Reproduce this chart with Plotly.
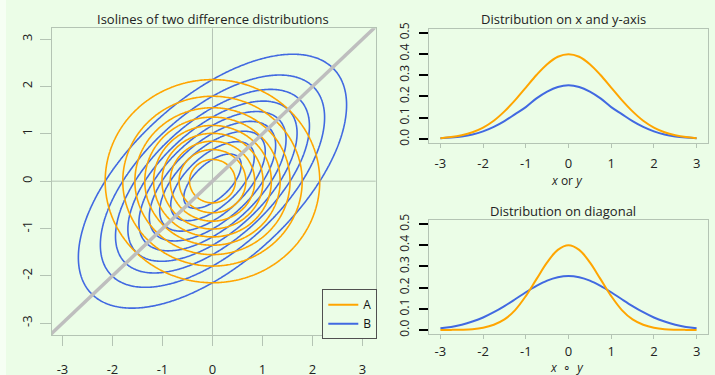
import numpy as np
import plotly.graph_objects as go

# ---------------- data ----------------
# 2D distributions shown as isolines
A_sd = 1.0
A_rho = 0.0
B_sd = 1.25
B_rho = 0.6
level_fractions = [0.1, 0.2, 0.3, 0.4, 0.5, 0.6, 0.7, 0.8, 0.9]   # of peak density

# 1D curves
x_pts = [-3.0, -2.75, -2.5, -2.25, -2.0, -1.75, -1.5, -1.25, -1.0, -0.75, -0.5, -0.25, 0.0,
         0.25, 0.5, 0.75, 1.0, 1.25, 1.5, 1.75, 2.0, 2.25, 2.5, 2.75, 3.0]
axis_A = [0.004, 0.009, 0.018, 0.032, 0.054, 0.086, 0.130, 0.183, 0.242, 0.301, 0.352, 0.387, 0.399,
          0.387, 0.352, 0.301, 0.242, 0.183, 0.130, 0.086, 0.054, 0.032, 0.018, 0.009, 0.004]
axis_B = [0.004, 0.007, 0.012, 0.021, 0.036, 0.057, 0.084, 0.117, 0.150, 0.191, 0.223, 0.245, 0.253,
          0.245, 0.223, 0.191, 0.150, 0.117, 0.084, 0.057, 0.036, 0.021, 0.012, 0.007, 0.004]
diag_A = [0.000, 0.0005, 0.0015, 0.004, 0.011, 0.025, 0.050, 0.094, 0.160, 0.240, 0.319, 0.378, 0.400,
          0.378, 0.319, 0.240, 0.160, 0.094, 0.050, 0.025, 0.011, 0.004, 0.0015, 0.0005, 0.000]
diag_B = [0.008, 0.014, 0.025, 0.040, 0.059, 0.084, 0.113, 0.145, 0.178, 0.208, 0.233, 0.249, 0.255,
          0.249, 0.233, 0.208, 0.178, 0.145, 0.113, 0.084, 0.059, 0.040, 0.025, 0.014, 0.008]

series_names = ["A", "B"]
xy_ticks = [-3, -2, -1, 0, 1, 2, 3]
xy_ticktext = ["-3", "-2", "-1", "0", "1", "2", "3"]
dens_ticks = [0.0, 0.1, 0.2, 0.3, 0.4, 0.5]
dens_ticktext = ["0.0", "0.1", "0.2", "0.3", "0.4", "0.5"]

# ---------------- styling ----------------
ORANGE = "#FFA500"
BLUE = "#4169E1"
BG = "#EBFDE7"
BOX = "#B4C4B4"
FONT = "Open Sans"
W, H = 715, 375


def density_grid(sd, rho, g):
    X, Y = np.meshgrid(g, g)
    q = (X**2 - 2 * rho * X * Y + Y**2) / (sd**2 * (1 - rho**2))
    return np.exp(-q / 2)  # relative to peak


grid = np.linspace(-3.4, 3.4, 273)
zA = density_grid(A_sd, A_rho, grid)
zB = density_grid(B_sd, B_rho, grid)

fig = go.Figure()


def contour(z, color, name):
    return go.Contour(
        x=grid, y=grid, z=z, name=name,
        contours=dict(start=level_fractions[0], end=level_fractions[-1],
                      size=level_fractions[1] - level_fractions[0], coloring="lines"),
        colorscale=[[0, color], [1, color]], showscale=False,
        line=dict(width=1.6), hoverinfo="skip", showlegend=False,
        xaxis="x", yaxis="y",
    )


fig.add_trace(contour(zB, BLUE, "B"))
fig.add_trace(contour(zA, ORANGE, "A"))
# diagonal
fig.add_trace(go.Scatter(x=[-4, 4], y=[-4, 4], mode="lines",
                         line=dict(color="#BEBEBE", width=3.5), showlegend=False,
                         hoverinfo="skip", xaxis="x", yaxis="y"))
# legend entries
for nm, col in zip(series_names, [ORANGE, BLUE]):
    fig.add_trace(go.Scatter(x=[None], y=[None], mode="lines", name=nm,
                             line=dict(color=col, width=2), xaxis="x", yaxis="y"))

# right-hand 1D curves
for ys, col, xa, ya in [(axis_B, BLUE, "x2", "y2"), (axis_A, ORANGE, "x2", "y2"),
                        (diag_B, BLUE, "x3", "y3"), (diag_A, ORANGE, "x3", "y3")]:
    fig.add_trace(go.Scatter(x=x_pts, y=ys, mode="lines", line=dict(color=col, width=2, shape="spline"),
                             showlegend=False, xaxis=xa, yaxis=ya))

tickfont13 = dict(family=FONT, size=13, color="#222222")
tickfont12 = dict(family=FONT, size=12, color="#222222")

common_box = dict(showline=True, linecolor=BOX, linewidth=1, mirror=True, showgrid=False,
                  zeroline=False, ticks="outside", automargin=False)

title_font = dict(family=FONT, size=13, color="#222222")
label_font = dict(family=FONT, size=12, color="#222222")

fig.update_layout(
    width=W, height=H, margin=dict(l=0, r=0, t=0, b=0, autoexpand=False),
    paper_bgcolor=BG, plot_bgcolor=BG,
    font=dict(family=FONT, size=12, color="#222222"),
    showlegend=True,
    legend=dict(x=377.3 / W, y=1 - 289.3 / H, xanchor="right", yanchor="top",
                bgcolor=BG, bordercolor="#505050", borderwidth=1,
                font=dict(family=FONT, size=12, color="#111111"),
                itemwidth=30, tracegroupgap=0),
    xaxis=dict(domain=[52 / W, 375.7 / W], range=[-3.21, 3.265], tickvals=xy_ticks, ticktext=xy_ticktext,
               ticklen=10, tickcolor=BOX, ticklabelstandoff=12, tickfont=tickfont13,
               anchor="y", **common_box),
    yaxis=dict(domain=[1 - 335 / H, 1 - 28.3 / H], range=[-3.25, 3.23], tickvals=xy_ticks, ticktext=xy_ticktext,
               ticklen=11, tickcolor=BOX, tickangle=-90, ticklabelstandoff=3, tickfont=tickfont13,
               anchor="x", **common_box),
    xaxis2=dict(domain=[429.3 / W, 707.7 / W], range=[-3.26, 3.26], tickvals=xy_ticks, ticktext=xy_ticktext,
                ticklen=4, tickcolor=BOX, anchor="y2", ticklabelstandoff=4, tickfont=tickfont13,
                **common_box),
    yaxis2=dict(domain=[1 - 143.3 / H, 1 - 29.3 / H], range=[-0.0202, 0.516],
                tickvals=dens_ticks, ticktext=dens_ticktext, ticklen=9, tickcolor="#000000", tickwidth=1.5,
                tickangle=-90, ticklabelstandoff=6, tickfont=tickfont12, anchor="x2", **common_box),
    xaxis3=dict(domain=[429.3 / W, 707.7 / W], range=[-3.26, 3.26], tickvals=xy_ticks, ticktext=xy_ticktext,
                ticklen=4, tickcolor=BOX, anchor="y3", ticklabelstandoff=1, tickfont=tickfont13,
                **common_box),
    yaxis3=dict(domain=[1 - 334.3 / H, 1 - 220 / H], range=[-0.0203, 0.519],
                tickvals=dens_ticks, ticktext=dens_ticktext, ticklen=9, tickcolor="#000000", tickwidth=1.5,
                tickangle=-90, ticklabelstandoff=6, tickfont=tickfont12, anchor="x3", **common_box),
    shapes=[
        dict(type="rect", xref="paper", yref="paper", x0=0, x1=6 / W, y0=0, y1=1,
             fillcolor="#F6FFF4", line=dict(width=0), layer="below"),
        dict(type="line", xref="x", yref="paper", x0=0, x1=0, y0=1 - 335 / H, y1=1 - 28.3 / H,
             line=dict(color=BOX, width=1), layer="below"),
        dict(type="line", xref="paper", yref="y", x0=52 / W, x1=375.7 / W, y0=0, y1=0,
             line=dict(color=BOX, width=1), layer="below"),
    ],
    annotations=[
        dict(text="Isolines of two difference distributions", x=213 / W, y=1 - 19 / H,
             xref="paper", yref="paper", xanchor="center", yanchor="middle", showarrow=False, font=title_font),
        dict(text="Distribution on x and y-axis", x=563 / W, y=1 - 19 / H,
             xref="paper", yref="paper", xanchor="center", yanchor="middle", showarrow=False, font=title_font),
        dict(text="Distribution on diagonal", x=563 / W, y=1 - 211 / H,
             xref="paper", yref="paper", xanchor="center", yanchor="middle", showarrow=False, font=title_font),
        dict(text="<i>x</i> or <i>y</i>", x=567 / W, y=1 - 180 / H,
             xref="paper", yref="paper", xanchor="center", yanchor="middle", showarrow=False, font=label_font),
        dict(text="<i>x</i>  ∘  <i>y</i>", x=567 / W, y=1 - 367 / H,
             xref="paper", yref="paper", xanchor="center", yanchor="middle", showarrow=False, font=label_font),
    ],
)

fig.write_html("out.html", config={"displayModeBar": False},
               post_script="document.body.style.margin='0';document.body.style.overflow='hidden';")
